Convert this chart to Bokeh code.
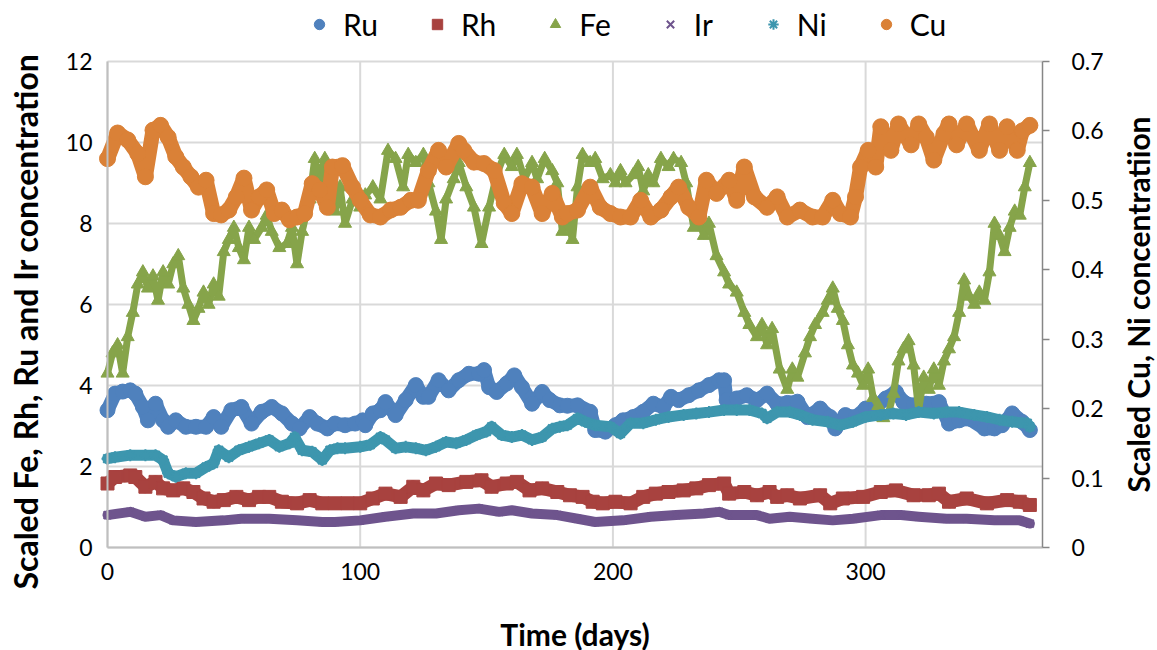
import math
from bokeh.plotting import figure
from bokeh.models import Range1d, LinearAxis, FixedTicker, Legend, LegendItem, ColumnDataSource, Label
from bokeh.embed import file_html
from bokeh.resources import INLINE

# ---------------- data ----------------
ru_days = [0,3,6,9,11,14,16,19,22,24,27,31,35,39,42,45,49,53,57,61,65,69,73,76,80,83,87,90,94,98,101,102,105,108,110,114,118,122,125,127,131,135,139,143,147,149,151,154,158,161,164,168,172,175,179,182,186,191,193,197,201,204,208,212,216,220,223,226,230,234,238,242,244,245,249,253,257,261,265,269,273,277,282,286,288,292,296,300,304,308,312,315,319,324,329,333,337,341,347,351,354,358,362,365]
ru_vals = [3.39,3.8,3.85,3.88,3.8,3.47,3.14,3.55,3.14,2.98,3.14,2.98,2.98,2.98,3.22,2.98,3.39,3.47,3.06,3.35,3.47,3.31,3.06,2.94,3.22,3.06,2.94,3.06,3.02,3.06,3.14,3.02,3.31,3.39,3.59,3.27,3.64,4.01,3.72,3.72,4.13,3.88,4.13,4.29,4.29,4.38,3.96,3.84,4.05,4.25,3.96,3.55,3.84,3.64,3.51,3.5,3.51,3.35,2.9,2.86,3.02,3.14,3.22,3.35,3.55,3.47,3.72,3.64,3.76,3.88,4.01,4.13,4.13,3.64,3.68,3.76,3.64,3.8,3.55,3.57,3.6,3.22,3.43,3.22,2.94,3.27,3.22,3.43,3.47,3.68,3.84,3.59,3.51,3.55,3.59,3.06,3.14,3.18,2.94,2.94,3.02,3.31,3.1,2.9]

rh_days = [0,3,9,11,15,19,22,26,30,34,38,42,46,51,56,60,64,69,75,80,85,90,95,100,105,110,116,121,125,130,135,142,148,152,158,162,167,172,178,183,188,192,196,201,207,212,217,222,228,233,238,244,246,252,257,262,265,269,274,282,286,291,299,306,312,319,325,329,333,340,348,356,361,365]
rh_vals = [1.58,1.74,1.78,1.74,1.5,1.62,1.46,1.41,1.46,1.37,1.21,1.13,1.17,1.25,1.17,1.25,1.25,1.13,1.09,1.17,1.09,1.09,1.09,1.09,1.21,1.33,1.25,1.5,1.41,1.58,1.54,1.62,1.66,1.5,1.58,1.62,1.41,1.46,1.37,1.29,1.25,1.13,1.09,1.13,1.09,1.25,1.33,1.37,1.41,1.46,1.54,1.58,1.33,1.37,1.29,1.37,1.25,1.29,1.21,1.29,1.09,1.21,1.25,1.37,1.41,1.29,1.29,1.33,1.13,1.21,1.09,1.17,1.13,1.05]

fe_days = [0,2,4,6,8,10,12,14,16,18,20,22,24,26,28,30,32,34,36,38,40,42,44,46,48,50,52,54,56,58,61,63,65,68,71,73,75,77,80,82,84,86,88,90,92,94,97,100,102,105,108,111,114,117,119,122,125,127,130,132,134,137,139,142,145,148,151,154,157,160,162,165,168,170,173,176,178,180,182,184,186,188,191,193,196,199,201,203,205,208,210,212,214,216,219,222,224,227,229,232,234,236,238,241,244,246,249,252,254,257,259,261,263,266,269,271,273,276,278,280,283,285,287,289,291,293,295,297,299,301,303,305,307,309,311,313,315,317,319,321,323,325,327,329,331,333,335,337,339,341,343,345,347,349,351,353,355,357,359,361,363,365]
fe_vals = [4.3,4.8,5.0,4.3,5.2,5.8,6.5,6.8,6.4,6.7,6.1,6.8,6.5,7.0,7.2,6.4,6.0,5.6,5.9,6.3,6.0,6.5,6.2,7.3,7.6,7.9,7.4,7.1,7.9,7.6,7.9,8.2,7.8,7.4,7.5,7.9,7.0,7.8,8.6,9.6,9.1,9.6,8.6,8.3,8.9,8.0,8.6,8.4,8.7,8.9,8.6,9.8,9.6,8.9,9.7,9.5,9.7,9.0,8.3,7.6,8.6,9.1,9.5,8.9,8.4,7.5,8.4,9.2,9.7,9.4,9.7,9.1,9.5,9.1,9.6,9.3,9.0,7.8,8.1,7.6,8.9,9.7,9.5,9.6,9.1,9.2,9.0,9.3,9.0,9.2,9.4,8.8,9.2,9.0,9.6,9.4,9.6,9.5,9.0,7.9,8.1,7.7,8.0,7.2,6.8,6.5,6.3,5.8,5.5,5.2,5.5,5.0,5.4,4.4,3.9,4.4,4.2,4.8,5.2,5.5,5.8,6.1,6.4,5.9,5.6,5.0,4.5,4.3,4.0,4.4,3.7,3.5,3.2,3.3,3.8,4.6,4.9,5.1,4.5,3.4,4.2,3.9,4.4,4.0,4.6,4.9,5.2,5.8,6.6,6.2,6.0,6.3,6.1,6.8,8.0,7.7,7.3,7.9,8.3,8.2,8.9,9.5]

ir_days = [0,9,15,21,26,35,46,53,64,75,85,90,100,110,121,130,139,147,155,160,168,178,186,193,204,215,225,236,242,246,257,262,270,279,287,295,306,314,321,332,340,351,361,365]
ir_vals = [0.8,0.88,0.76,0.8,0.67,0.63,0.67,0.71,0.71,0.67,0.63,0.63,0.67,0.76,0.84,0.84,0.92,0.96,0.88,0.92,0.84,0.8,0.71,0.63,0.67,0.76,0.8,0.84,0.88,0.8,0.8,0.71,0.76,0.71,0.67,0.71,0.8,0.8,0.76,0.71,0.71,0.67,0.67,0.59]

ni_days = [0,3,9,15,19,22,24,27,31,35,39,42,44,48,52,56,60,64,68,72,74,77,81,85,88,91,94,100,104,108,110,114,118,122,126,130,134,138,142,146,150,152,156,160,164,168,172,176,179,182,186,189,193,199,203,207,212,217,222,228,233,238,244,249,254,259,261,265,270,274,279,285,290,295,300,306,311,316,321,327,332,337,343,348,353,358,364,365]
ni_vals = [0.128,0.13,0.133,0.133,0.133,0.126,0.107,0.102,0.107,0.107,0.116,0.121,0.14,0.13,0.14,0.145,0.15,0.155,0.145,0.15,0.159,0.14,0.138,0.126,0.14,0.143,0.143,0.145,0.148,0.159,0.155,0.143,0.145,0.143,0.14,0.145,0.152,0.15,0.155,0.162,0.167,0.174,0.162,0.159,0.162,0.155,0.159,0.171,0.174,0.176,0.186,0.181,0.176,0.174,0.164,0.179,0.179,0.184,0.188,0.191,0.193,0.195,0.198,0.198,0.198,0.193,0.186,0.195,0.195,0.191,0.184,0.181,0.176,0.181,0.188,0.191,0.193,0.191,0.195,0.193,0.195,0.195,0.191,0.188,0.184,0.181,0.179,0.174]

cu_days = [0,4,8,12,15,18,21,24,27,30,33,36,39,42,45,48,51,54,57,60,63,66,69,72,75,78,81,84,87,89,93,97,100,104,108,112,116,120,123,127,131,134,139,141,145,149,153,157,160,164,168,172,176,180,182,186,191,195,199,203,207,211,215,219,223,226,230,234,237,241,246,249,252,256,261,265,269,274,279,283,287,290,294,296,298,301,304,306,310,313,318,321,324,327,331,333,336,340,345,349,353,356,360,362,365]
cu_vals = [0.56,0.597,0.587,0.567,0.534,0.601,0.608,0.591,0.563,0.548,0.534,0.519,0.529,0.481,0.479,0.486,0.505,0.532,0.486,0.505,0.515,0.481,0.486,0.472,0.476,0.481,0.524,0.515,0.49,0.548,0.55,0.519,0.5,0.479,0.476,0.486,0.49,0.5,0.5,0.543,0.572,0.548,0.582,0.572,0.555,0.553,0.543,0.496,0.481,0.524,0.519,0.481,0.51,0.476,0.481,0.486,0.519,0.49,0.481,0.476,0.476,0.5,0.476,0.486,0.505,0.519,0.49,0.476,0.529,0.51,0.529,0.5,0.548,0.505,0.49,0.505,0.476,0.486,0.476,0.476,0.5,0.481,0.476,0.505,0.548,0.572,0.548,0.606,0.572,0.61,0.58,0.61,0.591,0.558,0.596,0.61,0.58,0.61,0.572,0.61,0.572,0.606,0.572,0.6,0.608]

x_ticks = [0, 100, 200, 300]
left_ticks = [0, 2, 4, 6, 8, 10, 12]
right_ticks = [0, 0.1, 0.2, 0.3, 0.4, 0.5, 0.6, 0.7]
left_title = "Scaled Fe, Rh, Ru and Ir concentration"
right_title = "Scaled Cu, Ni concentratiion"
x_title = "Time (days)"

# ---------------- geometry (canvas pixels) ----------------
W, H = 1157, 650
FL, FR, FT, FB = 107, 1042, 61, 547          # plot-area edges
X0, X1 = 0, 370                               # x axis extent
YL1 = 12                                      # left axis max
YR1 = 0.7                                     # right axis max
sx = (FR - FL) / (X1 - X0)
syl = (FB - FT) / YL1
syr = (FB - FT) / YR1

FONT = "Lato"
TXT = "#000000"

# the frame fills the whole canvas; axes are pinned with fixed_location
p = figure(width=W, height=H, output_backend="svg", toolbar_location=None,
           x_range=Range1d(X0 - FL / sx, X1 + (W - FR) / sx),
           y_range=Range1d(-(H - FB) / syl, YL1 + FT / syl),
           min_border=0)
p.extra_y_ranges = {"right": Range1d(-(H - FB) / syr, YR1 + FT / syr)}
p.outline_line_color = None
p.background_fill_color = "white"
p.border_fill_color = "white"
p.grid.visible = False

# gridlines confined to the plot area
p.segment(x0=[X0] * len(left_ticks), y0=left_ticks, x1=[X1] * len(left_ticks), y1=left_ticks,
          line_color="#D9D9D9", line_width=2)
p.segment(x0=x_ticks, y0=[0] * len(x_ticks), x1=x_ticks, y1=[YL1] * len(x_ticks),
          line_color="#D9D9D9", line_width=2)

xa = p.xaxis[0]
xa.ticker = FixedTicker(ticks=x_ticks)
xa.fixed_location = 0
xa.bounds = (X0, X1)
ya = p.yaxis[0]
ya.ticker = FixedTicker(ticks=left_ticks)
ya.fixed_location = X0
ya.bounds = (0, YL1)

for ax in (xa, ya):
    ax.axis_line_color = "#BFBFBF"
    ax.axis_line_width = 2
    ax.major_tick_line_color = None
    ax.major_tick_out = 0
    ax.major_tick_in = 0
    ax.minor_tick_line_color = None
    ax.major_label_text_font = FONT
    ax.major_label_text_font_size = "23px"
    ax.major_label_text_color = TXT
xa.major_label_standoff = 15
ya.major_label_standoff = 15

ra = LinearAxis(y_range_name="right", ticker=FixedTicker(ticks=right_ticks),
                fixed_location=X1, bounds=(0, YR1))
ra.major_label_overrides = {0: "0"}
ra.axis_line_color = "#868686"
ra.axis_line_width = 1.5
ra.major_tick_line_color = "#868686"
ra.major_tick_line_width = 1.5
ra.major_tick_out = 7
ra.major_tick_in = 0
ra.minor_tick_line_color = None
ra.major_label_standoff = 22
ra.major_label_text_font = FONT
ra.major_label_text_font_size = "23px"
ra.major_label_text_color = TXT
p.add_layout(ra, "right")

series = [
    ("Ru", ru_days, ru_vals, "circle", 15, 14, "#4F81BD", "default"),
    ("Rh", rh_days, rh_vals, "square", 13, 13, "#A8423F", "default"),
    ("Fe", fe_days, fe_vals, "triangle", 13, 7, "#86A44A", "default"),
    ("Ir", ir_days, ir_vals, "x", 11, 10, "#6E548D", "default"),
    ("Ni", ni_days, ni_vals, "asterisk", 12, 11, "#3D96AE", "right"),
    ("Cu", cu_days, cu_vals, "circle", 16, 15, "#DA8137", "right"),
]

items = []
for name, dx, dy, marker, size, lw, color, rng in series:
    src = ColumnDataSource(data=dict(x=dx, y=dy))
    p.line("x", "y", source=src, line_color=color, line_width=lw,
           line_join="round", line_cap="round", y_range_name=rng)
    r = p.scatter("x", "y", source=src, marker=marker, size=size, fill_color=color,
                  line_color=color, line_width=2 if marker in ("x", "asterisk") else 1,
                  y_range_name=rng)
    items.append(LegendItem(label=name, renderers=[r]))

legend = Legend(items=items, orientation="horizontal", location=(306, H - 42),
                glyph_width=26, glyph_height=26, label_standoff=11, spacing=46,
                label_text_font=FONT, label_text_font_size="30px", label_text_color=TXT,
                border_line_color=None, background_fill_alpha=0, padding=0, margin=0)
p.add_layout(legend, "center")

# axis titles
common = dict(x_units="screen", y_units="screen", text_font=FONT,
              text_font_style="bold", text_color=TXT, text_align="center", text_baseline="middle")
p.add_layout(Label(x=25, y=H - 321, text=left_title, angle=math.pi / 2,
                   text_font_size="32px", **common))
p.add_layout(Label(x=1137, y=H - 304, text=right_title, angle=math.pi / 2,
                   text_font_size="30px", **common))
p.add_layout(Label(x=(FL + FR) / 2, y=H - 633, text=x_title, text_font_size="30px", **common))

open("out.html", "w").write(file_html(p, INLINE))
